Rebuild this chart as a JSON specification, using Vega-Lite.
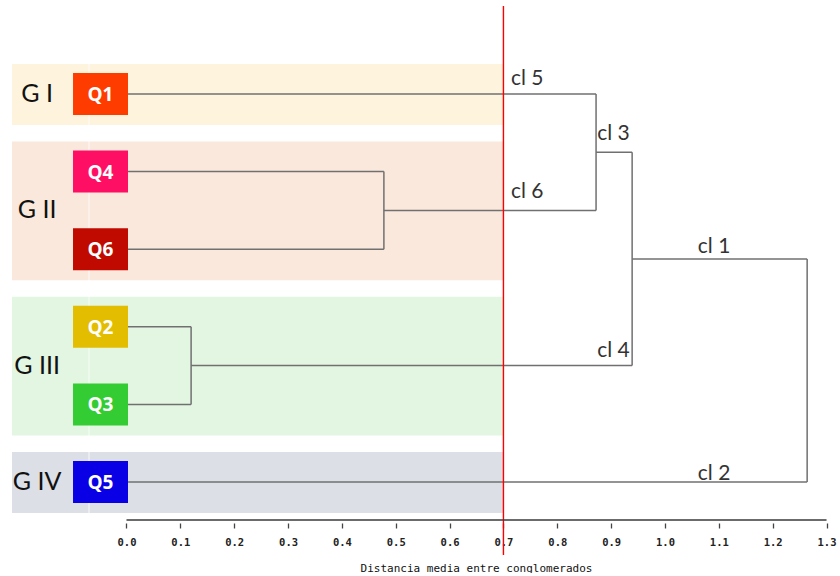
{
  "$schema": "https://vega.github.io/schema/vega-lite/v6.json",
  "width": 840,
  "height": 523,
  "autosize": {"type": "pad"},
  "padding": 0,
  "background": "white",
  "config": {"view": {"stroke": null}},
  "resolve": {"scale": {"color": "independent"}},
  "layer": [
    {
      "data": {"values": [
        {"g": "G I", "first": 0, "last": 0, "mid": 0},
        {"g": "G II", "first": 1, "last": 2, "mid": 1.5},
        {"g": "G III", "first": 3, "last": 4, "mid": 3.5},
        {"g": "G IV", "first": 5, "last": 5, "mid": 5}
      ]},
      "mark": {"type": "rect", "yOffset": -30, "y2Offset": 31},
      "encoding": {
        "x": {"datum": -0.2126, "type": "quantitative", "scale": {"domain": [-0.2349, 1.325], "nice": false, "zero": false},
          "axis": {"values": [0, 0.1, 0.2, 0.3, 0.4, 0.5, 0.6, 0.7, 0.8, 0.9, 1.0, 1.1, 1.2, 1.3],
            "format": ".1f", "domain": false, "grid": false, "tickSize": 5, "tickColor": "#444", "tickWidth": 1.3, "tickOffset": 0,
            "labelFont": "DejaVu Sans Mono", "labelFontWeight": "bold", "labelFontSize": 10.5, "labelColor": "#222", "labelPadding": 9,
            "title": "Distancia media entre conglomerados", "titleFont": "DejaVu Sans Mono", "titleFontSize": 11, "titleFontWeight": "normal", "titleColor": "#111",
            "titleX": 476, "titleY": 48, "titleBaseline": "alphabetic", "titleAlign": "center"}},
        "x2": {"datum": 0.7},
        "y": {"field": "first", "type": "quantitative", "scale": {"domain": [-1.211, 5.528], "nice": false, "zero": false, "reverse": true}, "axis": null},
        "y2": {"field": "last"},
        "color": {"field": "g", "type": "nominal", "legend": null,
          "scale": {"domain": ["G I", "G II", "G III", "G IV"], "range": ["#fef4dd", "#fbe8dc", "#e2f6e2", "#dcdfe6"]}}
      }
    },
    {
      "data": {"values": [{"x": -0.0696, "y": -0.40, "y2": 5.41}]},
      "mark": {"type": "rule", "stroke": "white", "strokeWidth": 1, "opacity": 0.8},
      "encoding": {
        "x": {"field": "x", "type": "quantitative"},
        "y": {"field": "y", "type": "quantitative"},
        "y2": {"field": "y2"}
      }
    },
    {
      "data": {"values": [
        {"x": 0, "x2": 0.872, "y": 0, "y2": 0},
        {"x": 0, "x2": 0.478, "y": 1, "y2": 1},
        {"x": 0, "x2": 0.478, "y": 2, "y2": 2},
        {"x": 0, "x2": 0.120, "y": 3, "y2": 3},
        {"x": 0, "x2": 0.120, "y": 4, "y2": 4},
        {"x": 0, "x2": 1.264, "y": 5, "y2": 5},
        {"x": 0.478, "x2": 0.872, "y": 1.5, "y2": 1.5},
        {"x": 0.120, "x2": 0.939, "y": 3.5, "y2": 3.5},
        {"x": 0.872, "x2": 0.939, "y": 0.75, "y2": 0.75},
        {"x": 0.939, "x2": 1.264, "y": 2.125, "y2": 2.125},
        {"x": 0.478, "x2": 0.478, "y": 1, "y2": 2},
        {"x": 0.120, "x2": 0.120, "y": 3, "y2": 4},
        {"x": 0.872, "x2": 0.872, "y": 0, "y2": 1.5},
        {"x": 0.939, "x2": 0.939, "y": 0.75, "y2": 3.5},
        {"x": 1.264, "x2": 1.264, "y": 2.125, "y2": 5}
      ]},
      "mark": {"type": "rule", "stroke": "#707070", "strokeWidth": 1.5},
      "encoding": {
        "x": {"field": "x", "type": "quantitative"},
        "x2": {"field": "x2"},
        "y": {"field": "y", "type": "quantitative"},
        "y2": {"field": "y2"}
      }
    },
    {
      "data": {"values": [{"cut": 0.7, "top": -1.134, "bottom": 5.94}]},
      "mark": {"type": "rule", "stroke": "#ff0000", "strokeWidth": 1.4, "opacity": 1},
      "encoding": {
        "x": {"field": "cut", "type": "quantitative"},
        "y": {"field": "top", "type": "quantitative"},
        "y2": {"field": "bottom"}
      }
    },
    {
      "data": {"values": [
        {"q": "Q1", "leaf": 0},
        {"q": "Q4", "leaf": 1},
        {"q": "Q6", "leaf": 2},
        {"q": "Q2", "leaf": 3},
        {"q": "Q3", "leaf": 4},
        {"q": "Q5", "leaf": 5}
      ]},
      "layer": [
        {
          "mark": {"type": "rect", "yOffset": -21, "y2Offset": 21},
          "encoding": {
            "x": {"datum": -0.0993, "type": "quantitative"},
            "x2": {"datum": 0.0028},
            "y": {"field": "leaf", "type": "quantitative"},
            "y2": {"field": "leaf"},
            "color": {"field": "q", "type": "nominal", "legend": null,
              "scale": {"domain": ["Q1", "Q4", "Q6", "Q2", "Q3", "Q5"], "range": ["#ff3c00", "#ff0f64", "#c00a00", "#e3bd00", "#33cc33", "#0a00e6"]}}
          }
        },
        {
          "mark": {"type": "text", "font": "Open Sans", "fontWeight": "bold", "fontSize": 19, "color": "white", "baseline": "middle", "align": "center", "dy": 1},
          "encoding": {
            "x": {"datum": -0.0483, "type": "quantitative"},
            "y": {"field": "leaf", "type": "quantitative"},
            "text": {"field": "q"}
          }
        }
      ]
    },
    {
      "data": {"values": [
        {"g": "G I", "mid": 0},
        {"g": "G II", "mid": 1.5},
        {"g": "G III", "mid": 3.5},
        {"g": "G IV", "mid": 5}
      ]},
      "mark": {"type": "text", "font": "Lato", "fontSize": 25, "color": "#111", "baseline": "middle", "align": "center"},
      "encoding": {
        "x": {"datum": -0.166, "type": "quantitative"},
        "y": {"field": "mid", "type": "quantitative"},
        "text": {"field": "g"}
      }
    },
    {
      "data": {"values": [
        {"cl": "cl 5", "x": 0.714, "y": -0.116},
        {"cl": "cl 6", "x": 0.714, "y": 1.340},
        {"cl": "cl 3", "x": 0.874, "y": 0.593},
        {"cl": "cl 4", "x": 0.874, "y": 3.389},
        {"cl": "cl 1", "x": 1.061, "y": 2.049},
        {"cl": "cl 2", "x": 1.061, "y": 4.974}
      ]},
      "mark": {"type": "text", "font": "Lato", "fontSize": 21, "color": "#333", "baseline": "alphabetic", "align": "left"},
      "encoding": {
        "x": {"field": "x", "type": "quantitative"},
        "y": {"field": "y", "type": "quantitative"},
        "text": {"field": "cl"}
      }
    },
    {
      "data": {"values": [{"from": 0, "to": 1.3, "level": 5.49}]},
      "mark": {"type": "rule", "stroke": "#3a3a3a", "strokeWidth": 1.6},
      "encoding": {
        "x": {"field": "from", "type": "quantitative"},
        "x2": {"field": "to"},
        "y": {"field": "level", "type": "quantitative"}
      }
    }
  ]
}
